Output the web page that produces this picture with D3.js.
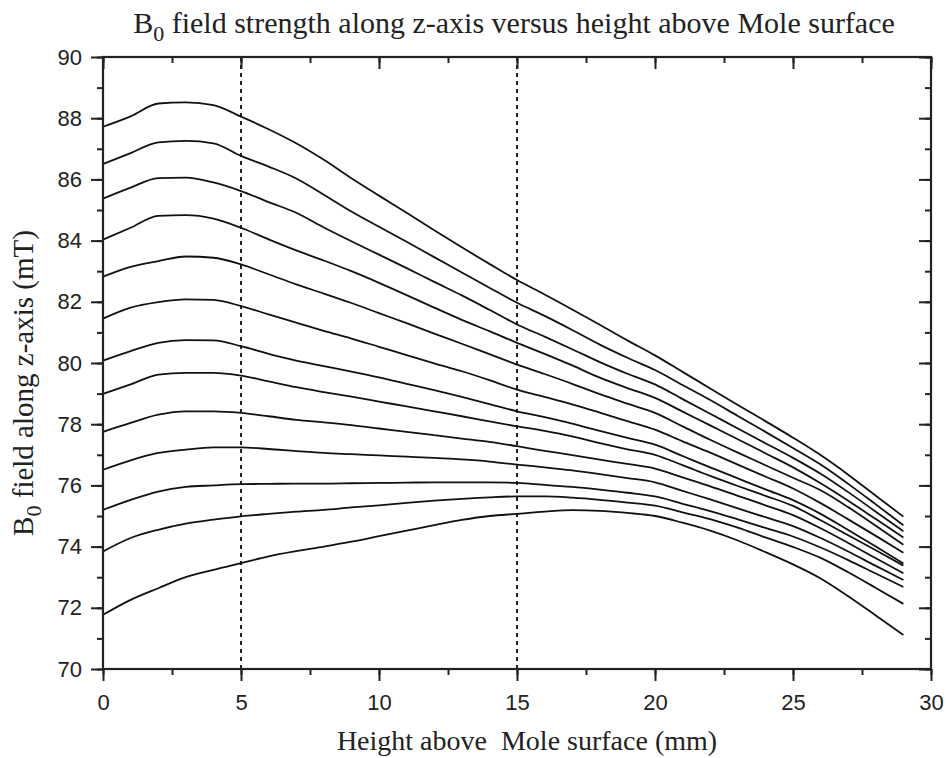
<!DOCTYPE html>
<html>
<head>
<meta charset="utf-8">
<script src="https://cdn.jsdelivr.net/npm/d3@7"></script>
<style>
  body { margin: 0; background: #fff; }
  svg { display: block; }
</style>
</head>
<body>
<script>
var width = 946
var height = 758

// height above the Mole surface (mm)
var heights = [0, 1, 2, 3, 4, 5, 6, 7, 8, 9, 10, 11, 12, 13, 14, 15, 16, 17, 18, 19, 20, 21, 22, 23, 24, 25, 26, 27, 28, 29]

// B0 along z-axis (mT), one array per curve, top to bottom
var curve1 = [87.72, 88.06, 88.48, 88.52, 88.43, 88.05, 87.64, 87.18, 86.64, 86.04, 85.47, 84.91, 84.34, 83.78, 83.24, 82.71, 82.24, 81.75, 81.25, 80.74, 80.25, 79.71, 79.17, 78.63, 78.10, 77.56, 76.99, 76.35, 75.66, 74.98]
var curve2 = [86.50, 86.86, 87.21, 87.26, 87.18, 86.77, 86.42, 86.03, 85.50, 84.95, 84.45, 83.96, 83.46, 82.96, 82.46, 81.97, 81.54, 81.08, 80.60, 80.17, 79.77, 79.28, 78.79, 78.27, 77.75, 77.22, 76.68, 76.05, 75.38, 74.70]
var curve3 = [85.37, 85.73, 86.04, 86.06, 85.90, 85.62, 85.26, 84.91, 84.43, 83.98, 83.54, 83.10, 82.65, 82.21, 81.74, 81.26, 80.86, 80.45, 80.03, 79.65, 79.30, 78.82, 78.34, 77.86, 77.38, 76.90, 76.38, 75.78, 75.14, 74.50]
var curve4 = [84.03, 84.42, 84.81, 84.83, 84.72, 84.42, 84.04, 83.68, 83.35, 83.00, 82.62, 82.22, 81.81, 81.41, 81.04, 80.66, 80.30, 79.92, 79.52, 79.18, 78.86, 78.41, 77.96, 77.51, 77.05, 76.59, 76.07, 75.50, 74.90, 74.30]
var curve5 = [82.82, 83.14, 83.33, 83.48, 83.44, 83.22, 82.90, 82.57, 82.27, 81.96, 81.63, 81.30, 80.96, 80.63, 80.29, 79.95, 79.64, 79.32, 78.98, 78.67, 78.37, 77.93, 77.49, 77.07, 76.66, 76.25, 75.84, 75.29, 74.68, 74.06]
var curve6 = [81.45, 81.81, 81.99, 82.08, 82.06, 81.86, 81.59, 81.32, 81.05, 80.80, 80.53, 80.26, 79.99, 79.73, 79.44, 79.13, 78.89, 78.65, 78.38, 78.10, 77.82, 77.44, 77.07, 76.68, 76.29, 75.90, 75.42, 74.89, 74.35, 73.80]
var curve7 = [80.08, 80.39, 80.66, 80.75, 80.74, 80.55, 80.30, 80.08, 79.90, 79.72, 79.53, 79.32, 79.11, 78.89, 78.66, 78.42, 78.23, 78.02, 77.78, 77.55, 77.33, 76.96, 76.59, 76.23, 75.87, 75.52, 75.07, 74.54, 74.00, 73.45]
var curve8 = [78.99, 79.30, 79.62, 79.68, 79.68, 79.59, 79.40, 79.21, 79.05, 78.90, 78.74, 78.58, 78.42, 78.26, 78.09, 77.93, 77.78, 77.60, 77.38, 77.18, 77.00, 76.66, 76.31, 75.98, 75.66, 75.33, 74.86, 74.37, 73.88, 73.38]
var curve9 = [77.75, 78.04, 78.31, 78.42, 78.42, 78.37, 78.26, 78.14, 78.06, 77.97, 77.86, 77.75, 77.64, 77.53, 77.42, 77.28, 77.13, 76.99, 76.84, 76.70, 76.55, 76.26, 75.97, 75.66, 75.35, 75.03, 74.60, 74.12, 73.62, 73.13]
var curve10 = [76.51, 76.82, 77.06, 77.17, 77.24, 77.24, 77.19, 77.12, 77.06, 77.02, 76.98, 76.94, 76.90, 76.85, 76.78, 76.68, 76.59, 76.49, 76.37, 76.24, 76.10, 75.82, 75.54, 75.25, 74.96, 74.67, 74.28, 73.84, 73.37, 72.91]
var curve11 = [75.20, 75.53, 75.80, 75.95, 76.00, 76.04, 76.05, 76.06, 76.06, 76.07, 76.08, 76.09, 76.10, 76.10, 76.10, 76.08, 76.02, 75.95, 75.86, 75.76, 75.64, 75.40, 75.16, 74.89, 74.61, 74.33, 73.97, 73.56, 73.12, 72.68]
var curve12 = [73.84, 74.28, 74.55, 74.75, 74.88, 74.99, 75.07, 75.14, 75.20, 75.28, 75.35, 75.43, 75.50, 75.56, 75.61, 75.64, 75.64, 75.60, 75.53, 75.44, 75.34, 75.12, 74.90, 74.62, 74.30, 73.99, 73.63, 73.16, 72.65, 72.13]
var curve13 = [71.77, 72.26, 72.64, 73.00, 73.24, 73.46, 73.68, 73.85, 74.00, 74.16, 74.34, 74.52, 74.70, 74.87, 75.00, 75.07, 75.14, 75.19, 75.17, 75.10, 75.00, 74.78, 74.52, 74.20, 73.82, 73.42, 72.96, 72.38, 71.75, 71.11]

var curves = [curve1, curve2, curve3, curve4, curve5, curve6, curve7, curve8, curve9, curve10, curve11, curve12, curve13]

// dotted marker lines (mm)
var markers = [5, 15]

var xTicks = [0, 5, 10, 15, 20, 25, 30]
var yTicks = [70, 72, 74, 76, 78, 80, 82, 84, 86, 88, 90]

var margin = { top: 57, right: 15, bottom: 89, left: 103 }

var x = d3.scaleLinear().domain([0, 30]).range([margin.left, width - margin.right])
var y = d3.scaleLinear().domain([70, 90]).range([height - margin.bottom, margin.top])

const svg = d3.select("body").append("svg")
  .attr("width", width)
  .attr("height", height)
  .attr("viewBox", [0, 0, width, height])

const sans = "'Liberation Sans', Arial, Helvetica, sans-serif"
const serif = "'Liberation Serif', 'Times New Roman', Times, serif"

// marker lines first so curves sit over them
svg.append("g")
  .selectAll("line")
  .data(markers)
  .join("line")
  .attr("x1", d => x(d)).attr("x2", d => x(d))
  .attr("y1", y(90)).attr("y2", y(70))
  .attr("stroke", "#222")
  .attr("stroke-width", 2)
  .attr("stroke-dasharray", "4,4")

const line = d3.line()
  .x((d, i) => x(heights[i]))
  .y(d => y(d))
  .curve(d3.curveMonotoneX)

svg.append("g")
  .selectAll("path")
  .data(curves)
  .join("path")
  .attr("d", line)
  .attr("fill", "none")
  .attr("stroke", "#111")
  .attr("stroke-width", 1.8)
  .attr("stroke-linejoin", "round")

// axes: bottom/left ticks outward, top/right inward
function styleAxis(g) {
  g.select(".domain").remove()
  g.selectAll(".tick line").attr("stroke", "#222").attr("stroke-width", 2)
  g.selectAll(".tick text")
    .attr("font-family", sans)
    .attr("font-size", 22)
    .attr("fill", "#222")
}

const xMinor = d3.range(0, 30.01, 2.5)
const yMinor = d3.range(70, 90.01, 1)

svg.append("g")
  .attr("transform", `translate(0,${y(70)})`)
  .call(d3.axisBottom(x).tickValues(xMinor).tickSize(6).tickFormat(""))
  .call(styleAxis)
svg.append("g")
  .attr("transform", `translate(0,${y(70)})`)
  .call(d3.axisBottom(x).tickValues(xTicks).tickSize(12).tickPadding(13).tickFormat(d3.format("d")))
  .call(styleAxis)

svg.append("g")
  .attr("transform", `translate(${x(0)},0)`)
  .call(d3.axisLeft(y).tickValues(yMinor).tickSize(6).tickFormat(""))
  .call(styleAxis)
svg.append("g")
  .attr("transform", `translate(${x(0)},0)`)
  .call(d3.axisLeft(y).tickValues(yTicks).tickSize(12).tickPadding(9).tickFormat(d3.format("d")))
  .call(styleAxis)

svg.append("g")
  .attr("transform", `translate(0,${y(90)})`)
  .call(d3.axisTop(x).tickValues(xMinor).tickSize(-6).tickFormat(""))
  .call(styleAxis)
svg.append("g")
  .attr("transform", `translate(0,${y(90)})`)
  .call(d3.axisTop(x).tickValues(xTicks).tickSize(-12).tickFormat(""))
  .call(styleAxis)

svg.append("g")
  .attr("transform", `translate(${x(30)},0)`)
  .call(d3.axisRight(y).tickValues(yMinor).tickSize(-6).tickFormat(""))
  .call(styleAxis)
svg.append("g")
  .attr("transform", `translate(${x(30)},0)`)
  .call(d3.axisRight(y).tickValues(yTicks).tickSize(-12).tickFormat(""))
  .call(styleAxis)

// frame
svg.append("rect")
  .attr("x", x(0)).attr("y", y(90))
  .attr("width", x(30) - x(0)).attr("height", y(70) - y(90))
  .attr("fill", "none")
  .attr("stroke", "#222")
  .attr("stroke-width", 2.2)

// title
const title = svg.append("text")
  .attr("x", 514)
  .attr("y", 33)
  .attr("text-anchor", "middle")
  .attr("font-family", serif)
  .attr("font-size", 30)
  .attr("fill", "#222")
title.append("tspan").text("B")
title.append("tspan").attr("dy", 8).attr("font-size", 22).text("0")
title.append("tspan").attr("dy", -8).text(" field strength along z-axis versus height above Mole surface")

// x label (double space as in the original)
svg.append("text")
  .attr("x", 527)
  .attr("y", 750)
  .attr("text-anchor", "middle")
  .attr("font-family", serif)
  .attr("font-size", 28)
  .attr("fill", "#222")
  .style("white-space", "pre")
  .text("Height above  Mole surface (mm)")

// y label
const ylab = svg.append("text")
  .attr("transform", "translate(33,383) rotate(-90)")
  .attr("text-anchor", "middle")
  .attr("font-family", serif)
  .attr("font-size", 29)
  .attr("fill", "#222")
ylab.append("tspan").text("B")
ylab.append("tspan").attr("dy", 8).attr("font-size", 22).text("0")
ylab.append("tspan").attr("dy", -8).text(" field along z-axis (mT)")
</script>
</body>
</html>
